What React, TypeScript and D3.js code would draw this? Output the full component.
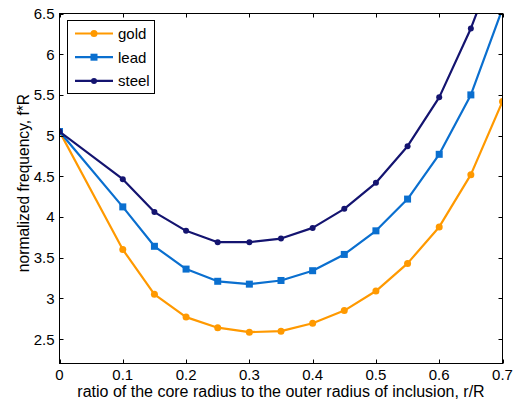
import React, { useEffect, useRef } from 'react'
import * as d3 from 'd3'

// core radius ratio r/R
const ratios = [0, 0.1, 0.15, 0.2, 0.25, 0.3, 0.35, 0.4, 0.45, 0.5, 0.55, 0.6, 0.65, 0.7]

const gold = [5.05, 3.6, 3.05, 2.77, 2.64, 2.585, 2.597, 2.695, 2.85, 3.09, 3.43, 3.878, 4.52, 5.42]
const lead = [5.05, 4.124, 3.64, 3.36, 3.21, 3.175, 3.22, 3.34, 3.54, 3.83, 4.22, 4.77, 5.5, 6.56]
const steel = [5.05, 4.464, 4.06, 3.83, 3.69, 3.69, 3.735, 3.866, 4.1, 4.42, 4.87, 5.47, 6.316, 7.34]

const seriesNames = ['gold', 'lead', 'steel']
const seriesColors = ['#ff9900', '#0a6fcf', '#141470']
const seriesMarkers = ['circle', 'square', 'dot']

const xTicks = [0, 0.1, 0.2, 0.3, 0.4, 0.5, 0.6, 0.7]
const yTicks = [2.5, 3, 3.5, 4, 4.5, 5, 5.5, 6, 6.5]

export default function App() {
  const svgRef = useRef(null)

  useEffect(() => {
    const svg = d3.select(svgRef.current)
    svg.selectAll('*').remove()

    const left = 59.5
    const right = 502.5
    const top = 13.5
    const bottom = 363.5
    const font = 'Arial, Liberation Sans, Helvetica, sans-serif'

    const x = d3.scaleLinear().domain([0, 0.7]).range([left, right])
    const y = d3.scaleLinear().domain([2.2, 6.5]).range([bottom, top])

    svg.append('rect').attr('width', 519).attr('height', 403).attr('fill', 'white')

    // clip for lines going off the top
    svg
      .append('clipPath')
      .attr('id', 'plotclip')
      .append('rect')
      .attr('x', left)
      .attr('y', top)
      .attr('width', right - left)
      .attr('height', bottom - top)

    const data = [gold, lead, steel]
    const plot = svg.append('g').attr('clip-path', 'url(#plotclip)')

    const line = d3
      .line<number>()
      .x((d, i) => x(ratios[i]))
      .y((d) => y(d))

    const drawMarker = (g, kind, cx, cy, color) => {
      if (kind === 'square') {
        g.append('rect')
          .attr('x', cx - 3.5)
          .attr('y', cy - 3.5)
          .attr('width', 7)
          .attr('height', 7)
          .attr('fill', color)
      } else {
        g.append('circle')
          .attr('cx', cx)
          .attr('cy', cy)
          .attr('r', kind === 'circle' ? 3.5 : 3)
          .attr('fill', color)
      }
    }

    data.forEach((vals, s) => {
      plot
        .append('path')
        .datum(vals)
        .attr('d', line)
        .attr('fill', 'none')
        .attr('stroke', seriesColors[s])
        .attr('stroke-width', 2.2)
        .attr('stroke-linejoin', 'round')
      vals.forEach((v, i) => {
        drawMarker(plot, seriesMarkers[s], x(ratios[i]), y(v), seriesColors[s])
      })
    })

    // axes box
    svg
      .append('rect')
      .attr('x', left)
      .attr('y', top)
      .attr('width', right - left)
      .attr('height', bottom - top)
      .attr('fill', 'none')
      .attr('stroke', 'black')
      .attr('stroke-width', 1)

    const tickLen = 4
    xTicks.forEach((t) => {
      const px = Math.round(x(t)) + 0.5
      svg.append('line').attr('x1', px).attr('x2', px).attr('y1', bottom).attr('y2', bottom - tickLen).attr('stroke', 'black')
      svg.append('line').attr('x1', px).attr('x2', px).attr('y1', top).attr('y2', top + tickLen).attr('stroke', 'black')
      svg
        .append('text')
        .attr('x', x(t))
        .attr('y', 380)
        .attr('text-anchor', 'middle')
        .attr('font-family', font)
        .attr('font-size', 15)
        .text(t === 0 ? '0' : String(t))
    })

    yTicks.forEach((t) => {
      const py = Math.round(y(t)) + 0.5
      svg.append('line').attr('x1', left).attr('x2', left + tickLen).attr('y1', py).attr('y2', py).attr('stroke', 'black')
      svg.append('line').attr('x1', right).attr('x2', right - tickLen).attr('y1', py).attr('y2', py).attr('stroke', 'black')
      svg
        .append('text')
        .attr('x', left - 5)
        .attr('y', y(t) + 5.5)
        .attr('text-anchor', 'end')
        .attr('font-family', font)
        .attr('font-size', 15)
        .text(String(t))
    })

    svg
      .append('text')
      .attr('x', 281)
      .attr('y', 397)
      .attr('text-anchor', 'middle')
      .attr('font-family', font)
      .attr('font-size', 16)
      .text('ratio of the core radius to the outer radius of inclusion, r/R')

    svg
      .append('text')
      .attr('transform', 'translate(29,183) rotate(-90)')
      .attr('text-anchor', 'middle')
      .attr('font-family', font)
      .attr('font-size', 15.6)
      .text('normalized frequency, f*R')

    // legend
    const legend = svg.append('g')
    legend
      .append('rect')
      .attr('x', 67.5)
      .attr('y', 20.5)
      .attr('width', 87)
      .attr('height', 73)
      .attr('fill', 'white')
      .attr('stroke', 'black')
      .attr('stroke-width', 1)

    seriesNames.forEach((name, s) => {
      const ly = 33.5 + s * 23.7
      legend
        .append('line')
        .attr('x1', 75)
        .attr('x2', 113)
        .attr('y1', ly)
        .attr('y2', ly)
        .attr('stroke', seriesColors[s])
        .attr('stroke-width', 2.2)
      drawMarker(legend, seriesMarkers[s], 94, ly, seriesColors[s])
      legend
        .append('text')
        .attr('x', 118)
        .attr('y', ly + 5.5)
        .attr('font-family', font)
        .attr('font-size', 15)
        .text(name)
    })
  }, [])

  return (
    <svg
      ref={svgRef}
      width={519}
      height={403}
      style={{ position: 'absolute', left: 0, top: 0 }}
    ></svg>
  )
}
